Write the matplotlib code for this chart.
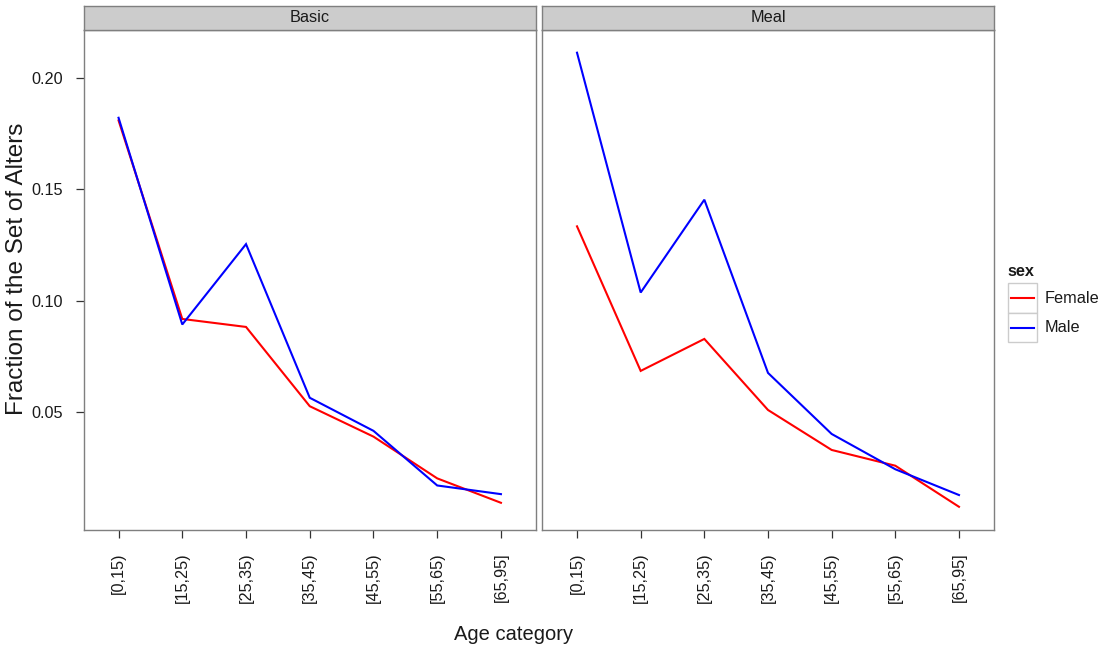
import matplotlib
matplotlib.use("Agg")
import matplotlib.pyplot as plt
import numpy as np
from matplotlib.patches import Rectangle

plt.rcParams["font.family"] = ["Liberation Sans", "DejaVu Sans"]

# data
AGE_CATS = ["[0,15)", "[15,25)", "[25,35)", "[35,45)", "[45,55)", "[55,65)", "[65,95]"]
PANELS = ["Basic", "Meal"]
SEXES = ["Female", "Male"]
SEX_COLORS = {"Female": "#ff0000", "Male": "#0000ff"}

basic_female = [0.1811, 0.0917, 0.0881, 0.0524, 0.0387, 0.0199, 0.0089]
basic_male = [0.1823, 0.0892, 0.1254, 0.0562, 0.0413, 0.0167, 0.0128]
meal_female = [0.1334, 0.0683, 0.0827, 0.0507, 0.0327, 0.0256, 0.0071]
meal_male = [0.2116, 0.1036, 0.1454, 0.0674, 0.0399, 0.0240, 0.0124]

SERIES = {
    ("Basic", "Female"): basic_female,
    ("Basic", "Male"): basic_male,
    ("Meal", "Female"): meal_female,
    ("Meal", "Male"): meal_male,
}

W, H = 1102, 649
BORDER = "#7f7f7f"
STRIP = "#cccccc"
TEXT = "#1a1a1a"
FS = 11.7


def px_rect(x0, y0, x1, y1):
    # pixel box (top-left origin) -> figure fraction rect
    return [x0 / W, (H - y1) / H, (x1 - x0) / W, (y1 - y0) / H]


def main() -> None:
    fig = plt.figure(figsize=(W / 100, H / 100), dpi=100)

    allv = np.concatenate([np.asarray(v) for v in SERIES.values()])
    lo, hi = allv.min(), allv.max()
    span = hi - lo
    ylim = (lo - 0.05 * span, hi + 0.05 * span)
    x = np.arange(len(AGE_CATS))

    panel_px = {"Basic": (83.5, 536.0), "Meal": (542.0, 994.0)}
    top, bottom = 30.0, 529.5

    for i, panel in enumerate(PANELS):
        x0, x1 = panel_px[panel]
        ax = fig.add_axes(px_rect(x0, top, x1, bottom))
        for sex in SEXES:
            ax.plot(x, SERIES[(panel, sex)], color=SEX_COLORS[sex], lw=1.5, solid_joinstyle="miter")
        ax.set_xlim(-0.55, len(AGE_CATS) - 1 + 0.55)
        ax.set_ylim(*ylim)
        for sp in ax.spines.values():
            sp.set_color(BORDER)
            sp.set_linewidth(1.0)
        ax.set_xticks(x)
        ax.set_xticklabels(AGE_CATS, rotation=90, ha="center", va="top")
        ax.set_yticks([0.05, 0.10, 0.15, 0.20])
        ax.set_yticklabels(["0.05", "0.10", "0.15", "0.20"])
        ax.tick_params(axis="both", color="#333333", length=5.5, width=0.9,
                       labelsize=FS, labelcolor=TEXT)
        ax.tick_params(axis="x", pad=11)
        ax.tick_params(axis="y", pad=9.5)
        if i > 0:
            ax.tick_params(axis="y", left=False, labelleft=False)

        sax = fig.add_axes(px_rect(x0, 6.0, x1, 30.0))
        sax.set_facecolor(STRIP)
        sax.set_xticks([])
        sax.set_yticks([])
        for sp in sax.spines.values():
            sp.set_color(BORDER)
            sp.set_linewidth(1.0)
        sax.text(0.5, 0.5, panel, ha="center", va="center", fontsize=FS, color=TEXT,
                 transform=sax.transAxes)

    fig.text(513.5 / W, 1 - 635 / H, "Age category", ha="center", va="center",
             fontsize=14.5, color=TEXT)
    fig.text(17 / W, 1 - 269 / H, "Fraction of the Set of Alters", ha="center", va="center",
             rotation=90, fontsize=17.5, color=TEXT)

    # legend drawn as a little key box column
    lax = fig.add_axes(px_rect(1007.7, 283.3, 1036.7, 342.3))
    lax.set_xlim(0, 1)
    lax.set_ylim(0, 2)
    lax.axis("off")
    for k, sex in enumerate(SEXES):
        yb = len(SEXES) - 1 - k
        lax.add_patch(Rectangle((0, yb), 1, 1, facecolor="white", edgecolor=STRIP,
                                lw=1.0, clip_on=False))
        lax.plot([0.11, 0.9], [yb + 0.5, yb + 0.5], color=SEX_COLORS[sex], lw=1.5,
                 clip_on=False)
        lax.text(1.29, yb + 0.5, sex, ha="left", va="center", fontsize=FS, color=TEXT)
    lax.text(0.0, 2.39, "sex", ha="left", va="center", fontsize=FS, fontweight="bold",
             color=TEXT)

    fig.savefig("out.png", dpi=100, facecolor="white")
    plt.close(fig)


if __name__ == "__main__":
    main()
